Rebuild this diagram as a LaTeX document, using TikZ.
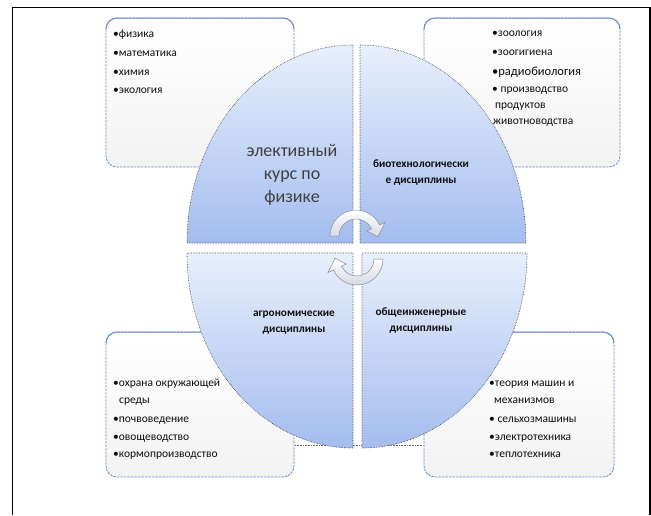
\documentclass[tikz,border=0pt]{standalone}
\usepackage{fontspec}
\setmainfont{Carlito}
\usetikzlibrary{calc}
\definecolor{boxblue}{RGB}{105,140,205}
\definecolor{qlight}{RGB}{232,239,252}
\definecolor{qdark}{RGB}{164,189,239}
\definecolor{txt}{RGB}{15,15,15}
\tikzset{
  infobox/.style={draw=boxblue, line width=0.8pt, dash pattern=on 2.5pt off 1pt, rounded corners=11pt, top color=white, bottom color=black!5},
  boxtop/.style={draw=boxblue, line width=1pt},
  quad/.style={top color=qlight, bottom color=qdark, draw=black!75, line width=0.6pt, densely dotted},
  cyc/.style={top color=white, bottom color=qlight!80!gray, draw=black!45, line width=0.5pt},
  li/.style={anchor=base west, font=\fontsize{11.5}{14}\selectfont, text=txt, inner sep=0pt},
  qtxt/.style={align=center, font=\bfseries\fontsize{11.3}{16}\selectfont, text=txt, inner sep=0pt},
}
\begin{document}
\begin{tikzpicture}[x=1pt,y=-1pt]
\useasboundingbox (0,0) rectangle (651,515);
% frame
\draw[line width=1.5pt] (12.5,515) -- (12.5,7.5) -- (650,7.5) -- (650,515);
% boxes
\path[infobox] (106,18) rectangle (294,167);
\path[infobox] (424,18) rectangle (620,167);
\path[infobox] (106,332) rectangle (294,477);
\path[infobox] (424,332) rectangle (614,477);
\draw[boxtop] (106,29) arc[start angle=180, end angle=270, radius=11] -- (283,18) arc[start angle=270, end angle=360, radius=11];
\draw[boxtop] (424,29) arc[start angle=180, end angle=270, radius=11] -- (609,18) arc[start angle=270, end angle=360, radius=11];
\draw[boxtop] (106,343) arc[start angle=180, end angle=270, radius=11] -- (283,332) arc[start angle=270, end angle=360, radius=11];
\draw[boxtop] (424,343) arc[start angle=180, end angle=270, radius=11] -- (603,332) arc[start angle=270, end angle=360, radius=11];
\draw[black!60, line width=0.6pt, densely dotted] (295,445) -- (423,445);
% quadrants
\path[quad] (353,243) -- (187,243) arc[start angle=180, end angle=270, x radius=166, y radius=198] -- cycle;
\path[quad] (360,243) -- (360,45) arc[start angle=270, end angle=360, x radius=166, y radius=198] -- cycle;
\path[quad] (362,253) -- (527,253) arc[start angle=0, end angle=90, x radius=165, y radius=195] -- cycle;
\path[quad] (353,253) -- (353,448) arc[start angle=90, end angle=180, x radius=166, y radius=195] -- cycle;
% cycle arrows
\begin{scope}[shift={(356,236)}]
\path[cyc] (180:26) arc[start angle=180, end angle=335, radius=26] -- (335:32) -- (2:22) -- (335:12) -- (335:17) arc[start angle=335, end angle=180, radius=17] -- cycle;
\end{scope}
\begin{scope}[shift={(357,259)}]
\path[cyc] (0:26) arc[start angle=0, end angle=155, radius=26] -- (155:32) -- (182:22) -- (155:12) -- (155:17) arc[start angle=155, end angle=0, radius=17] -- cycle;
\end{scope}
% quadrant texts
\node[align=center, font=\fontsize{18}{23}\selectfont, text=black!75, inner sep=0pt] (course) at (292,175) {элективный\\курс по\\физике};
\node[qtxt] (bio) at (421,173) {биотехнологически\\е дисциплины};
\node[qtxt] (agro) at (294,323) {агрономические\\дисциплины};
\node[qtxt] (eng) at (421,321) {общеинженерные\\дисциплины};
% top-left list
\node[li] (a1) at (113,37) {•физика};
\node[li] (a2) at (113,56) {•математика};
\node[li] (a3) at (113,75) {•химия};
\node[li] (a4) at (113,93) {•экология};
% top-right list
\node[li] (b1) at (492,36) {•зоология};
\node[li] (b2) at (492,55) {•зоогигиена};
\node[li, font=\fontsize{12.5}{14}\selectfont] (b3) at (492,75) {•радиобиология};
\node[li] (b4) at (492,92) {• производство};
\node[li] (b5) at (495,108) {продуктов};
\node[li] (b6) at (493,124) {животноводства};
% bottom-left list
\node[li] (c1) at (113,386) {•охрана окружающей};
\node[li] (c2) at (119,403) {среды};
\node[li] (c3) at (113,422) {•почвоведение};
\node[li] (c4) at (113,440) {•овощеводство};
\node[li] (c5) at (113,457) {•кормопроизводство};
% bottom-right list
\node[li] (d1) at (489,386) {•теория машин и};
\node[li] (d2) at (494,403) {механизмов};
\node[li] (d3) at (489,422) {• сельхозмашины};
\node[li] (d4) at (489,440) {•электротехника};
\node[li] (d5) at (489,457) {•теплотехника};
\end{tikzpicture}
\end{document}
